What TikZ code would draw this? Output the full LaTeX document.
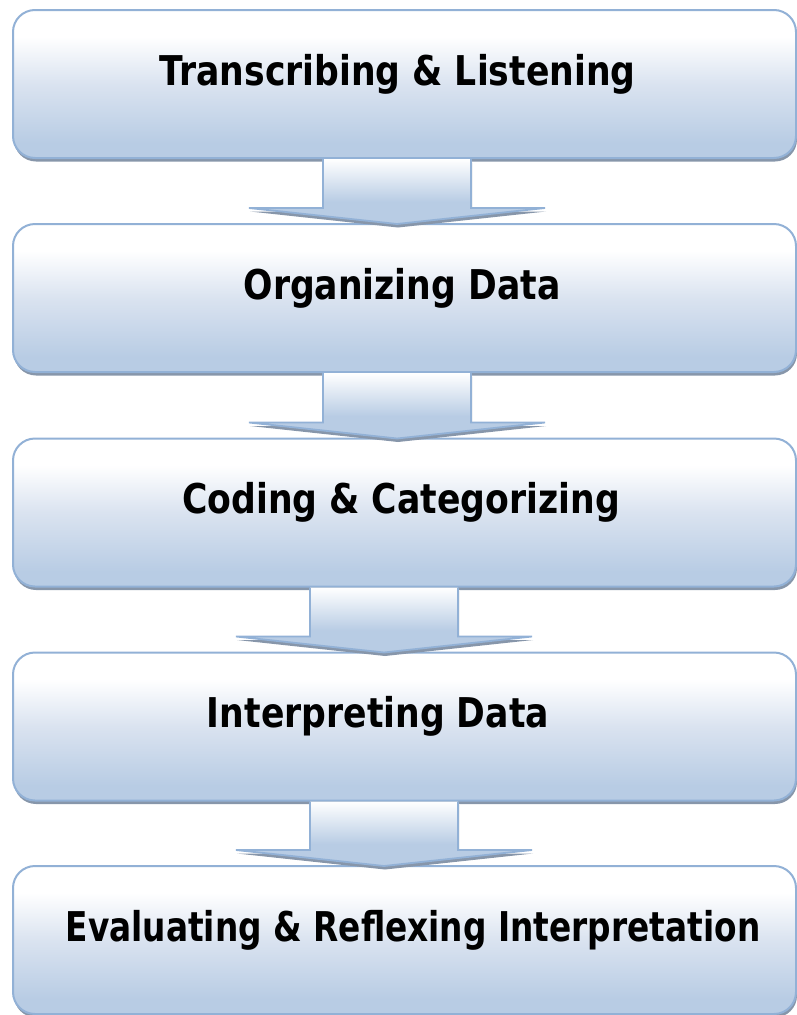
\documentclass[tikz,border=0pt]{standalone}
\usepackage{fontspec}
\newfontfamily\boxfont[FakeStretch=0.845]{DejaVu Sans}
\newfontfamily\boxfontn[FakeStretch=0.80]{DejaVu Sans}
\usetikzlibrary{calc,shadows}
\definecolor{lb}{RGB}{184,204,228}
\definecolor{mb}{RGB}{218,227,240}
\definecolor{bord}{RGB}{146,177,214}
\definecolor{shad}{RGB}{135,150,170}
\pgfdeclareverticalshading{stageshade}{100bp}{color(0bp)=(lb); color(30bp)=(lb); color(50bp)=(mb); color(66bp)=(white); color(100bp)=(white)}
\pgfdeclareverticalshading{flowshade}{100bp}{color(0bp)=(lb); color(42bp)=(lb); color(75bp)=(white); color(100bp)=(white)}
\tikzset{
  stage/.style={draw=bord, line width=2pt, rounded corners=22pt,
    minimum width=783pt, minimum height=148pt, inner sep=0pt, outer sep=0pt,
    shade, shading=stageshade,
    general shadow={fill=shad, shadow xshift=1pt, shadow yshift=-3.5pt}},
  stagetext/.style={anchor=base, inner sep=0pt, text=black,
    font=\boxfont\bfseries\fontsize{41}{49}\selectfont},
  flow/.style={draw=bord, line width=1.8pt, line join=miter,
    shade, shading=flowshade,
    general shadow={fill=shad, shadow xshift=1pt, shadow yshift=-3.5pt}},
}
\newcommand\flowarrow[3]{%
  \path[flow] let \p1=(#2.south), \p2=(#3.north) in
    (#1pt-74pt,\y1-1pt) -- (#1pt-74pt,\y2+16pt) -- (#1pt-148pt,\y2+16pt)
    -- (#1pt,\y2) -- (#1pt+148pt,\y2+16pt) -- (#1pt+74pt,\y2+16pt)
    -- (#1pt+74pt,\y1-1pt);
}
\begin{document}
\begin{tikzpicture}[x=1pt,y=-1pt]
\useasboundingbox (0,0) rectangle (797,1015);
\node[stage] (b1) at (404.5,84) {};
\node[stage] (b2) at (404.5,298) {};
\node[stage] (b3) at (404.5,512.5) {};
\node[stage] (b4) at (404.5,726.5) {};
\node[stage] (b5) at (404.5,940) {};
\node[stagetext] (t1) at (397.5,85) {Transcribing \& Listening};
\node[stagetext] (t2) at (402,299) {Organizing Data};
\node[stagetext] (t3) at (401,513.5) {Coding \& Categorizing};
\node[stagetext] (t4) at (378,727.5) {Interpreting Data};
\node[stagetext, font=\boxfontn\bfseries\fontsize{41}{49}\selectfont] (t5) at (413,941) {Evaluating \& Reflexing Interpretation};
\flowarrow{397}{b1}{b2}
\flowarrow{397}{b2}{b3}
\flowarrow{384}{b3}{b4}
\flowarrow{384}{b4}{b5}
\end{tikzpicture}
\end{document}
